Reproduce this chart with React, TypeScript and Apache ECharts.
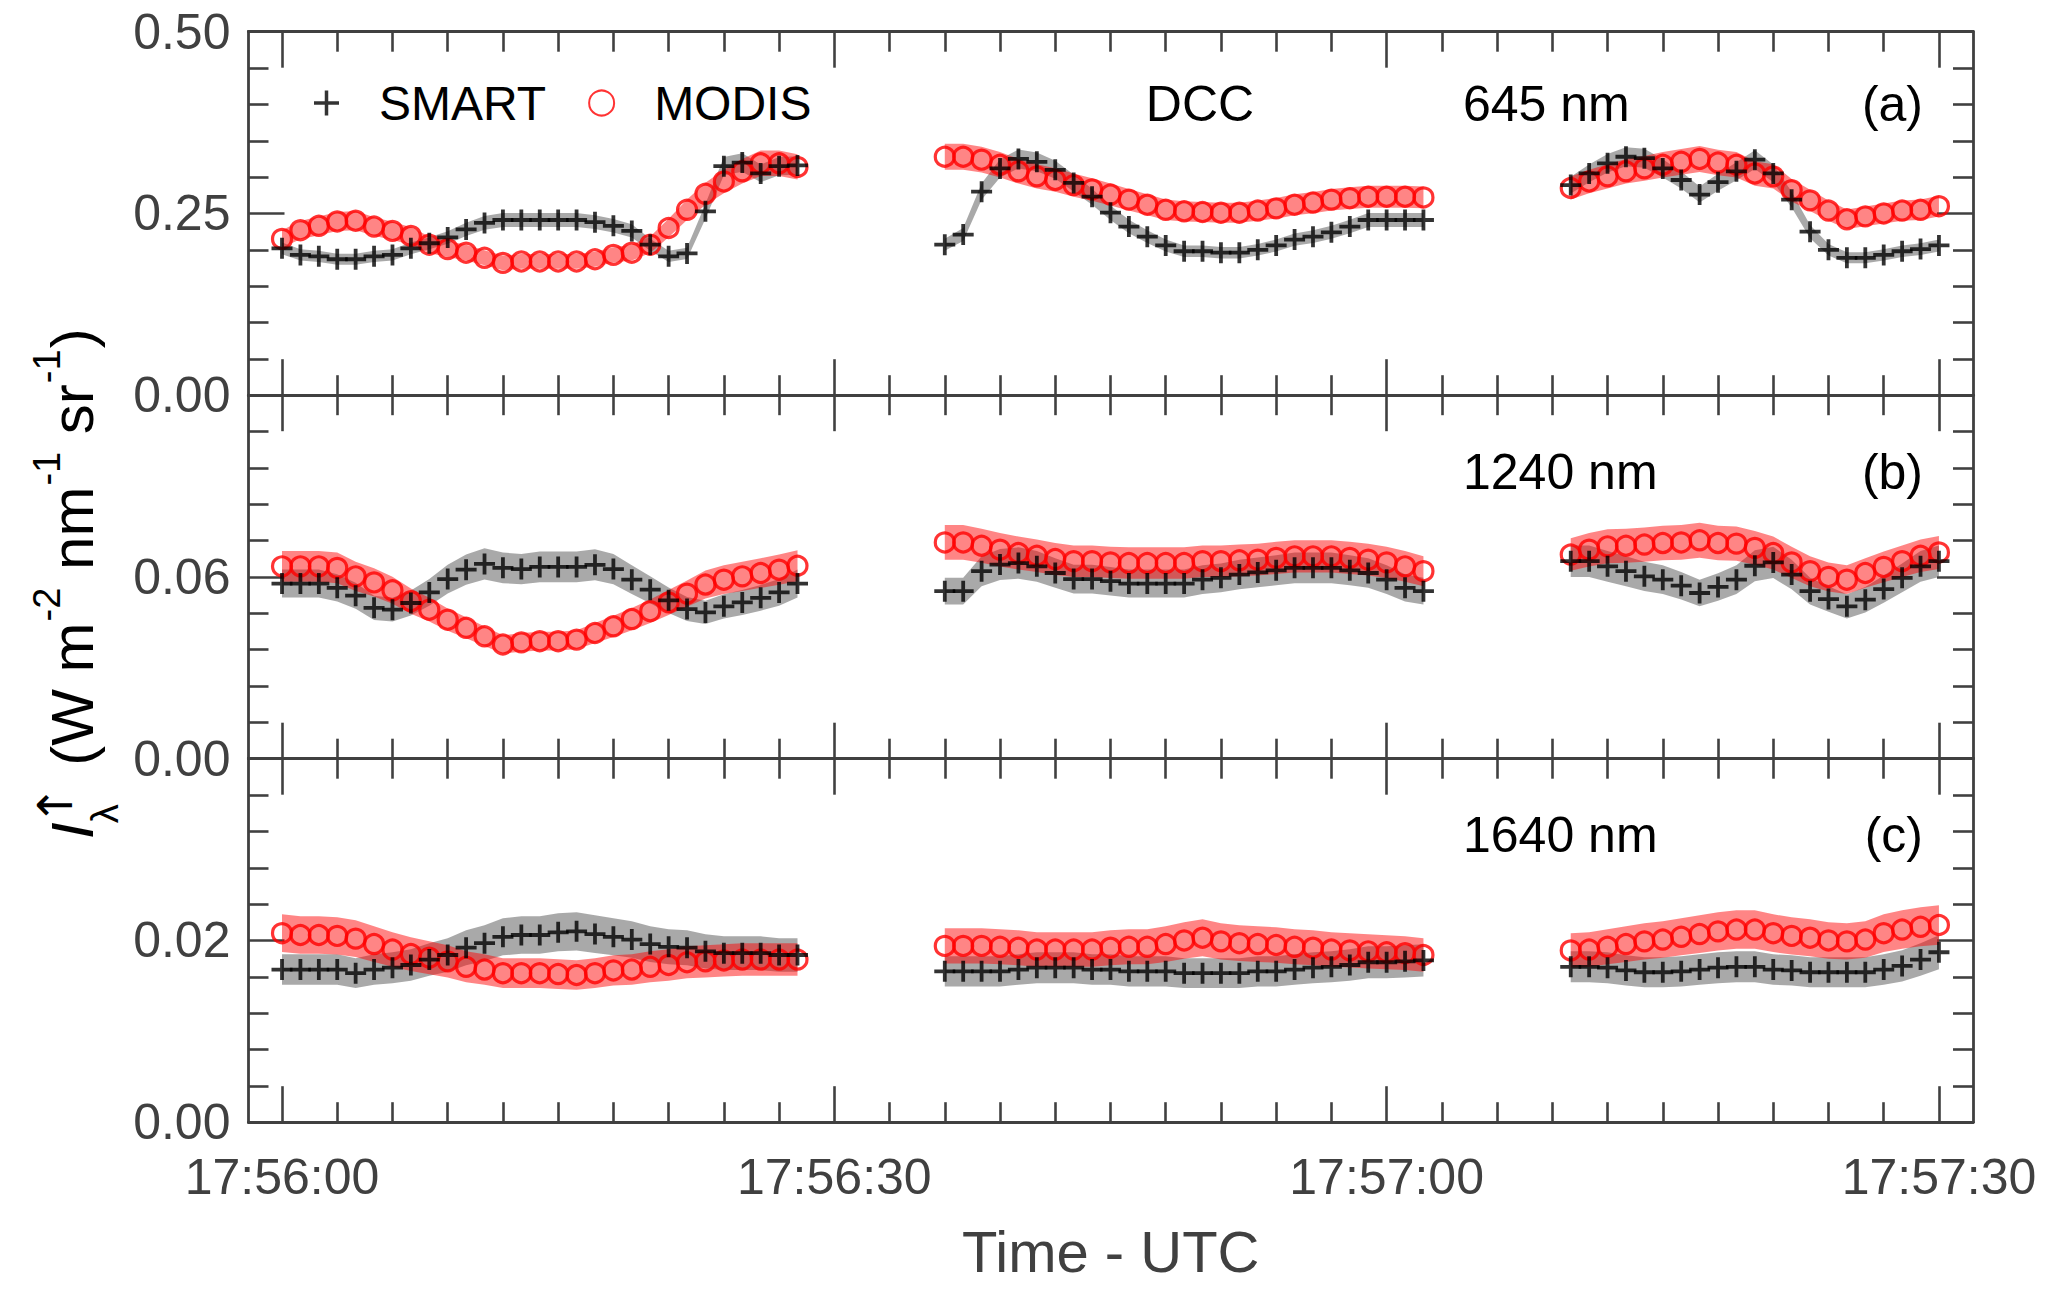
import { useEffect, useRef } from "react";
import * as echarts from "echarts";

// seconds after 17:56:00, one sample per second, three flight legs
const TIME_S = [
  0, 1, 2, 3, 4, 5, 6, 7, 8, 9, 10, 11, 12, 13, 14, 15, 16, 17, 18, 19, 20, 21, 22, 23, 24, 25, 26, 27, 28,
  36, 37, 38, 39, 40, 41, 42, 43, 44, 45, 46, 47, 48, 49, 50, 51, 52, 53, 54, 55, 56, 57, 58, 59, 60, 61, 62,
  70, 71, 72, 73, 74, 75, 76, 77, 78, 79, 80, 81, 82, 83, 84, 85, 86, 87, 88, 89, 90,
];

const X_TICKS = [0, 30, 60, 90];
const X_TICK_LABELS = ["17:56:00", "17:56:30", "17:57:00", "17:57:30"];
const X_MINOR_TICKS = [3, 6, 9, 12, 15, 18, 21, 24, 27, 33, 36, 39, 42, 45, 48, 51, 54, 57, 63, 66, 69, 72, 75, 78, 81, 84, 87];

const Y_MAX = [0.5, 0.12, 0.04];
const Y_STEP = [0.25, 0.06, 0.02];
const WAVELENGTHS = ["645 nm", "1240 nm", "1640 nm"];
const PANEL_TAGS = ["(a)", "(b)", "(c)"];

// 645 nm
const A_SMART = [
  0.202, 0.193, 0.191, 0.187, 0.187, 0.191, 0.193, 0.202, 0.209, 0.217, 0.228, 0.237, 0.241, 0.241, 0.241,
  0.241, 0.241, 0.238, 0.233, 0.226, 0.207, 0.191, 0.195, 0.253, 0.315, 0.320, 0.305, 0.315, 0.316,
  0.207, 0.221, 0.280, 0.312, 0.325, 0.321, 0.310, 0.292, 0.273, 0.251, 0.232, 0.218, 0.206, 0.198, 0.198,
  0.196, 0.196, 0.200, 0.206, 0.214, 0.218, 0.224, 0.232, 0.241, 0.241, 0.241, 0.241,
  0.289, 0.305, 0.319, 0.328, 0.326, 0.312, 0.296, 0.276, 0.293, 0.308, 0.324, 0.305, 0.269, 0.225, 0.200,
  0.189, 0.189, 0.193, 0.198, 0.201, 0.206,
];
const A_MODIS = [
  0.215, 0.227, 0.233, 0.239, 0.240, 0.232, 0.226, 0.219, 0.207, 0.201, 0.196, 0.189, 0.182, 0.184, 0.184,
  0.184, 0.184, 0.187, 0.193, 0.196, 0.207, 0.230, 0.255, 0.277, 0.294, 0.308, 0.319, 0.319, 0.314,
  0.328, 0.328, 0.324, 0.317, 0.308, 0.301, 0.296, 0.289, 0.283, 0.276, 0.269, 0.262, 0.255, 0.253, 0.252,
  0.251, 0.251, 0.254, 0.257, 0.262, 0.265, 0.269, 0.271, 0.273, 0.273, 0.273, 0.272,
  0.285, 0.294, 0.301, 0.308, 0.312, 0.317, 0.321, 0.325, 0.320, 0.317, 0.305, 0.301, 0.282, 0.268, 0.254,
  0.242, 0.246, 0.250, 0.254, 0.255, 0.260,
];

// 1240 nm
const B_SMART = [
  0.0578, 0.0578, 0.0578, 0.0564, 0.0538, 0.0498, 0.0492, 0.0514, 0.0549, 0.0593, 0.0624, 0.0643, 0.063, 0.0626,
  0.0633, 0.0633, 0.0633, 0.064, 0.0626, 0.0591, 0.0558, 0.0523, 0.0494, 0.0483, 0.0503, 0.0516, 0.0531, 0.0549, 0.0578,
  0.0553, 0.0553, 0.0619, 0.0641, 0.0646, 0.0635, 0.0613, 0.0593, 0.0593, 0.0586, 0.0578, 0.0578, 0.0578, 0.0578,
  0.0591, 0.0597, 0.0608, 0.0615, 0.0622, 0.063, 0.063, 0.063, 0.0622, 0.0613, 0.0591, 0.0564, 0.0553,
  0.0652, 0.0652, 0.0635, 0.0619, 0.0602, 0.0591, 0.0571, 0.0547, 0.0567, 0.0591, 0.0637, 0.0648, 0.0608, 0.0553,
  0.0527, 0.0503, 0.0525, 0.056, 0.0597, 0.0635, 0.0652,
];
const B_MODIS = [
  0.0635, 0.0635, 0.0635, 0.063, 0.0602, 0.0582, 0.0556, 0.052, 0.0492, 0.0459, 0.0432, 0.0404, 0.0377, 0.0384,
  0.0388, 0.0388, 0.0393, 0.0415, 0.0437, 0.0461, 0.0487, 0.0516, 0.0545, 0.0575, 0.0591, 0.0602, 0.0613, 0.0624, 0.0637,
  0.0714, 0.0714, 0.0703, 0.069, 0.0679, 0.067, 0.0659, 0.0652, 0.0652, 0.0648, 0.0646, 0.0646, 0.0646, 0.0646,
  0.0652, 0.0652, 0.0655, 0.0657, 0.0663, 0.0668, 0.0668, 0.0668, 0.0663, 0.0657, 0.0648, 0.0635, 0.0619,
  0.0674, 0.069, 0.0701, 0.0703, 0.0707, 0.0712, 0.0714, 0.0721, 0.0712, 0.071, 0.0696, 0.0679, 0.0648, 0.0619,
  0.06, 0.0591, 0.0613, 0.0633, 0.0652, 0.067, 0.0681,
];

// 1640 nm
const C_SMART = [
  0.0168, 0.0168, 0.0168, 0.0168, 0.0164, 0.0168, 0.017, 0.0173, 0.0179, 0.0184, 0.0192, 0.0197, 0.0204, 0.0206,
  0.0206, 0.0209, 0.021, 0.0207, 0.0204, 0.0201, 0.0196, 0.0193, 0.0192, 0.0188, 0.0186, 0.0186, 0.0186, 0.0184, 0.0184,
  0.0166, 0.0166, 0.0166, 0.0166, 0.0168, 0.017, 0.017, 0.017, 0.0168, 0.0168, 0.0166, 0.0166, 0.0166, 0.0164,
  0.0164, 0.0164, 0.0164, 0.0166, 0.0166, 0.0168, 0.017, 0.0171, 0.0173, 0.0176, 0.0176, 0.0177, 0.0178,
  0.0171, 0.0171, 0.017, 0.0167, 0.0165, 0.0165, 0.0166, 0.0168, 0.017, 0.0171, 0.0171, 0.0168, 0.0167, 0.0165,
  0.0165, 0.0165, 0.0165, 0.0168, 0.0172, 0.0179, 0.0187,
];
const C_MODIS = [
  0.0208, 0.0206, 0.0206, 0.0205, 0.0202, 0.0196, 0.019, 0.0185, 0.0181, 0.0177, 0.0171, 0.0168, 0.0164, 0.0164,
  0.0164, 0.0163, 0.0162, 0.0164, 0.0167, 0.0168, 0.0171, 0.0173, 0.0176, 0.0177, 0.0178, 0.0179, 0.0179, 0.0179, 0.0179,
  0.0194, 0.0194, 0.0194, 0.0193, 0.0192, 0.019, 0.019, 0.019, 0.019, 0.0192, 0.0193, 0.0193, 0.0196, 0.02,
  0.0203, 0.0199, 0.0197, 0.0196, 0.0195, 0.0193, 0.0192, 0.019, 0.0189, 0.0188, 0.0187, 0.0186, 0.0184,
  0.0189, 0.019, 0.0193, 0.0196, 0.0199, 0.0201, 0.0204, 0.0207, 0.021, 0.0212, 0.0212, 0.0208, 0.0205, 0.0203,
  0.02, 0.0199, 0.0201, 0.0208, 0.0212, 0.0215, 0.0217,
];

const SMART = [A_SMART, B_SMART, C_SMART];
const MODIS = [A_MODIS, B_MODIS, C_MODIS];
// relative uncertainty shown as the shaded band, per panel
const SMART_ERR = [0.04, 0.08, 0.1];
const MODIS_ERR = [0.055, 0.08, 0.1];

// y title pieces: text, kind (main / sup)
const Y_TITLE = [
  [" (W m", "main"],
  ["-2", "sup"],
  [" nm", "main"],
  ["-1", "sup"],
  [" sr", "main"],
  ["-1", "sup"],
  [")", "main"],
];

const FONT = "'Liberation Sans', Arial, Helvetica, sans-serif";
const AXIS_COLOR = "#404040";
const X_MIN = -1.82;
const X_MAX = 91.85;
const GRID_TOP = 31.7;
const PANEL_H = 363.5;
const PLUS = "path://M8.2,0H11.8V8.2H20V11.8H11.8V20H8.2V11.8H0V8.2H8.2Z";
const PLUS_THIN = "path://M8.6,0H11.4V8.6H20V11.4H11.4V20H8.6V11.4H0V8.6H8.6Z";

// split sample indices wherever the time series has a gap
function legs(times: number[]) {
  const out: number[][] = [];
  let cur: number[] = [];
  times.forEach((t, i) => {
    if (i > 0 && t - times[i - 1] > 1.5) {
      out.push(cur);
      cur = [];
    }
    cur.push(i);
  });
  out.push(cur);
  return out;
}

function band(panel: number, values: number[], err: number, fill: string) {
  const segs = legs(TIME_S);
  return {
    type: "custom",
    xAxisIndex: panel * 4,
    yAxisIndex: panel * 2,
    silent: true,
    z: 1,
    data: segs.map((s) => [TIME_S[s[0]], values[s[0]]]),
    renderItem: (params: any, api: any) => {
      const seg = segs[params.dataIndex];
      const upper = seg.map((i) => api.coord([TIME_S[i], values[i] * (1 + err)]));
      const lower = seg.map((i) => api.coord([TIME_S[i], values[i] * (1 - err)])).reverse();
      return { type: "polygon", shape: { points: upper.concat(lower) }, style: { fill } };
    },
  };
}

// rotated y-axis title, built piece by piece so sub/superscripts sit right
function yTitle() {
  const ctx = document.createElement("canvas").getContext("2d")!;
  const measure = (text: string, size: number, style = "") => {
    ctx.font = `${style} ${size}px ${FONT}`;
    return ctx.measureText(text).width;
  };
  const MAIN = 60;
  const SMALL = 38;
  const children: any[] = [];
  const txt = (text: string, x: number, y: number, size: number, extra: any = {}) =>
    children.push({
      type: "text",
      x,
      y,
      style: { text, fontSize: size, fontFamily: FONT, fill: "#000", align: "left", verticalAlign: "middle", ...extra },
    });

  let x = 0;
  txt("I", x, 0, MAIN, { fontStyle: "italic" });
  x += measure("I", MAIN, "italic") - 1;
  txt("↑", x - 2, -17, 48, { fontFamily: "'DejaVu Sans', sans-serif" });
  txt("λ", x, 33, 38);
  x += measure("λ", 38) + 22;
  Y_TITLE.forEach(([text, kind]) => {
    if (kind === "sup") {
      txt(text, x + 1, -25, SMALL);
      x += measure(text, SMALL) + 2;
    } else {
      txt(text, x, 0, MAIN);
      x += measure(text, MAIN);
    }
  });
  return { type: "group", x: 72, y: 839, rotation: Math.PI / 2, children };
}

export default function App() {
  const chartRef = useRef<HTMLDivElement>(null);

  useEffect(() => {
    if (!chartRef.current) return;
    const chart = echarts.init(chartRef.current, null, { renderer: "svg" });

    const tickLine = { color: AXIS_COLOR, width: 2.6 };
    const axisLine = { show: true, onZero: false, lineStyle: { color: AXIS_COLOR, width: 2.8 } };

    const grid = [0, 1, 2].map((i) => ({ left: 248.5, right: 94, top: GRID_TOP + i * PANEL_H, height: PANEL_H }));

    const xAxis: any[] = [];
    const yAxis: any[] = [];
    [0, 1, 2].forEach((i) => {
      const base = { type: "value", gridIndex: i, min: X_MIN, max: X_MAX, axisLine, splitLine: { show: false } };
      (["bottom", "top"] as const).forEach((pos) => {
        const labelled = pos === "bottom" && i === 2;
        xAxis.push({
          ...base,
          position: pos,
          axisTick: { show: true, inside: true, length: 36, customValues: X_TICKS, lineStyle: tickLine },
          axisLabel: {
            show: labelled,
            customValues: X_TICKS,
            formatter: (v: number) => X_TICK_LABELS[X_TICKS.indexOf(v)] ?? "",
            margin: 30,
            fontSize: 50,
            fontFamily: FONT,
            color: AXIS_COLOR,
          },
          name: labelled ? "Time - UTC" : "",
          nameLocation: "middle",
          nameGap: 100,
          nameTextStyle: { fontSize: 58, fontFamily: FONT, color: AXIS_COLOR },
        });
        xAxis.push({
          ...base,
          position: pos,
          axisTick: { show: true, inside: true, length: 20, customValues: X_MINOR_TICKS, lineStyle: tickLine },
          axisLabel: { show: false },
        });
      });

      (["left", "right"] as const).forEach((pos) => {
        yAxis.push({
          type: "value",
          gridIndex: i,
          position: pos,
          min: 0,
          max: Y_MAX[i],
          interval: Y_STEP[i],
          axisLine,
          splitLine: { show: false },
          axisTick: { show: true, inside: true, length: 36, lineStyle: tickLine },
          minorTick: { show: true, splitNumber: 5, length: 20, lineStyle: tickLine },
          axisLabel: {
            show: pos === "left",
            showMaxLabel: i === 0,
            formatter: (v: number) => v.toFixed(2),
            margin: 18,
            fontSize: 50,
            fontFamily: FONT,
            color: AXIS_COLOR,
          },
        });
      });
    });

    const series: any[] = [];
    [0, 1, 2].forEach((i) => {
      series.push(band(i, SMART[i], SMART_ERR[i], "rgba(90, 90, 90, 0.52)"));
      series.push(band(i, MODIS[i], MODIS_ERR[i], "rgba(255, 0, 0, 0.48)"));
      series.push({
        type: "scatter",
        name: "MODIS",
        xAxisIndex: i * 4,
        yAxisIndex: i * 2,
        z: 3,
        data: TIME_S.map((t, k) => [t, MODIS[i][k]]),
        symbol: "circle",
        symbolSize: 19,
        itemStyle: { color: "rgba(255,0,0,0)", borderColor: "#ff0000", borderWidth: 3.2 },
      });
      series.push({
        type: "scatter",
        name: "SMART",
        xAxisIndex: i * 4,
        yAxisIndex: i * 2,
        z: 4,
        data: TIME_S.map((t, k) => [t, SMART[i][k]]),
        symbol: PLUS,
        symbolSize: 21,
        itemStyle: { color: "#000" },
      });
    });

    const labelY = [104, 472, 835];
    const graphic: any[] = [
      {
        type: "text",
        x: 1200,
        y: labelY[0],
        style: { text: "DCC", fontSize: 50, fontFamily: FONT, fill: "#000", align: "center", verticalAlign: "middle" },
      },
      yTitle(),
    ];
    [0, 1, 2].forEach((i) => {
      graphic.push({
        type: "text",
        x: 1463,
        y: labelY[i],
        style: { text: WAVELENGTHS[i], fontSize: 50, fontFamily: FONT, fill: "#000", align: "left", verticalAlign: "middle" },
      });
      graphic.push({
        type: "text",
        x: 1923,
        y: labelY[i],
        style: { text: PANEL_TAGS[i], fontSize: 50, fontFamily: FONT, fill: "#000", align: "right", verticalAlign: "middle" },
      });
    });

    chart.setOption({
      animation: false,
      backgroundColor: "#fff",
      grid,
      xAxis,
      yAxis,
      series,
      graphic,
      legend: {
        data: [{ name: "SMART", icon: PLUS_THIN }, { name: "MODIS" }],
        left: 309,
        top: 74,
        itemWidth: 25,
        itemHeight: 25,
        itemGap: 42,
        selectedMode: false,
        textStyle: { fontSize: 48, fontFamily: FONT, color: "#000", padding: [0, 0, 0, 35] },
      },
    });

    return () => {
      chart.dispose();
    };
  }, []);

  return <div ref={chartRef} style={{ position: "fixed", left: 0, top: 0, width: 2067, height: 1289 }} />;
}
